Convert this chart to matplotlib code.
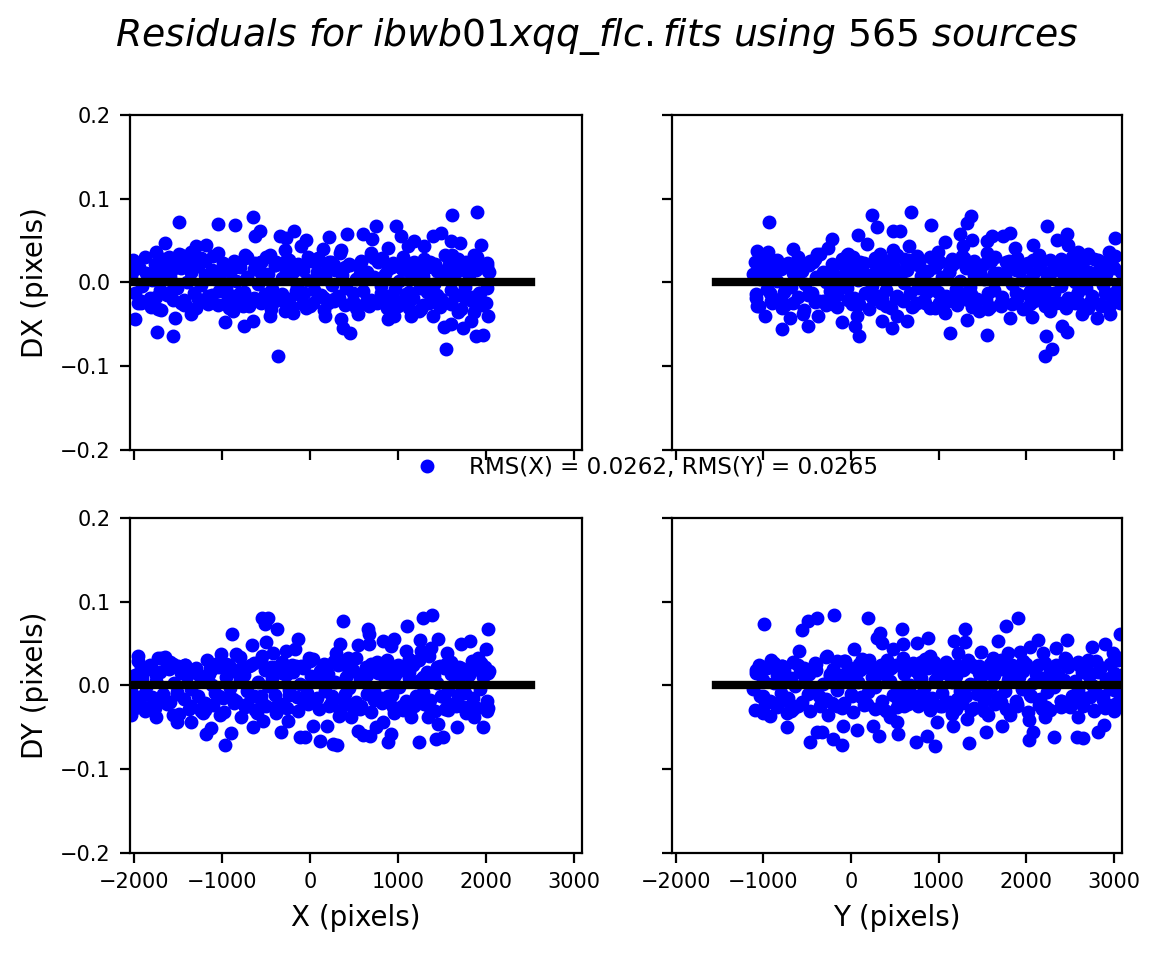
import matplotlib
matplotlib.use("Agg")
from matplotlib import pyplot as plt
from matplotlib.lines import Line2D

image_name = "ibwb01xqq_flc.fits"
n_sources = 565
rms_x = 0.0262
rms_y = 0.0265

# dense core of the residual clouds (approximate)
left_core_x = [
    -2030, -1985, -1940, -1905, -1860, -1820, -1790, -1745, -1700, -1668,
    -1630, -1590, -1548, -1510, -1470, -1436, -1395, -1350, -1318, -1275,
    -1236, -1190, -1152, -1110, -1075, -1030, -992, -950, -912, -870,
    -835, -790, -752, -715, -670, -636, -590, -552, -510, -474,
    -430, -392, -350, -312, -270, -232, -190, -150, -112, -70,
    -32, 10, 48, 90, 128, 170, 208, 250, 290, 330,
    368, 410, 450, 490, 528, 570, 608, 650, 690, 730,
    770, 810, 850, 888, 930, 970, 1010, 1050, 1090, 1130,
    1170, 1210, 1250, 1290, 1330, 1370, 1410, 1450, 1490, 1530,
    1570, 1610, 1650, 1690, 1730, 1770, 1810, 1850, 1890, 1930,
    1970, 2010, 2040,
]
tl_core_dx = [
    0.008, -0.012, 0.018, -0.004, 0.011, -0.019, 0.003, 0.022, -0.009, 0.014,
    -0.015, 0.006, 0.025, -0.007, 0.017, -0.021, 0.001, 0.012, -0.013, 0.020,
    -0.003, 0.009, -0.018, 0.015, 0.004, -0.010, 0.023, -0.006, 0.013, -0.016,
    0.002, 0.019, -0.011, 0.007, -0.022, 0.016, -0.002, 0.024, -0.014, 0.010,
    -0.008, 0.021, -0.017, 0.005, 0.014, -0.020, 0.012, -0.005, 0.018, -0.012,
    0.003, 0.026, -0.009, 0.011, -0.015, 0.007, 0.020, -0.003, 0.015, -0.019,
    0.009, -0.007, 0.022, -0.013, 0.004, 0.017, -0.010, 0.013, -0.021, 0.006,
    0.024, -0.004, 0.010, -0.016, 0.019, -0.008, 0.002, 0.016, -0.014, 0.012,
    -0.018, 0.021, -0.006, 0.008, -0.011, 0.025, -0.002, 0.014, -0.020, 0.005,
    0.018, -0.009, 0.011, -0.015, 0.023, -0.005, 0.009, -0.017, 0.015, -0.012,
    0.020, -0.007, 0.012,
]
bl_core_dy = [
    -0.006, 0.013, -0.018, 0.009, -0.002, 0.020, -0.014, 0.005, 0.016, -0.010,
    0.024, -0.020, 0.003, -0.008, 0.015, -0.016, 0.011, -0.004, 0.019, -0.012,
    0.007, -0.021, 0.014, 0.001, -0.009, 0.022, -0.015, 0.010, -0.003, 0.017,
    -0.019, 0.006, 0.012, -0.007, 0.025, -0.013, 0.004, -0.017, 0.018, -0.001,
    0.009, -0.011, 0.021, -0.022, 0.013, -0.005, 0.016, -0.014, 0.002, 0.023,
    -0.009, 0.011, -0.018, 0.007, 0.019, -0.006, 0.014, -0.012, 0.004, 0.026,
    -0.016, 0.010, -0.003, 0.017, -0.020, 0.008, 0.013, -0.010, 0.022, -0.007,
    0.015, -0.015, 0.005, 0.020, -0.011, 0.012, -0.002, 0.018, -0.019, 0.009,
    0.024, -0.013, 0.006, -0.008, 0.016, -0.017, 0.011, 0.003, -0.012, 0.021,
    -0.005, 0.014, -0.021, 0.008, 0.019, -0.009, 0.013, -0.015, 0.025, -0.004,
    0.010, -0.018, 0.017,
]
left_core_x2 = [
    -2010, -1950, -1880, -1810, -1760, -1690, -1620, -1560, -1490, -1420,
    -1370, -1300, -1240, -1170, -1100, -1050, -980, -920, -860, -800,
    -740, -690, -620, -560, -500, -440, -380, -320, -260, -200,
    -140, -80, -20, 40, 100, 160, 220, 280, 340, 400,
    460, 520, 580, 640, 700, 760, 820, 880, 940, 1000,
    1060, 1120, 1180, 1240, 1300, 1360, 1420, 1480, 1540, 1600,
    1660, 1720, 1780, 1840, 1900, 1960, 2020, 1995, 1575, 1125,
]
tl_core2_dx = [
    0.027, -0.024, 0.031, -0.029, 0.022, -0.033, 0.028, -0.021, 0.034, -0.026,
    0.024, -0.030, 0.029, -0.023, 0.032, -0.027, 0.021, -0.031, 0.026, -0.022,
    0.033, -0.028, 0.023, -0.025, 0.030, -0.032, 0.025, -0.021, 0.028, -0.029,
    0.022, -0.026, 0.031, -0.024, 0.027, -0.033, 0.024, -0.022, 0.035, -0.027,
    0.021, -0.030, 0.026, -0.023, 0.032, -0.025, 0.029, -0.031, 0.023, -0.028,
    0.030, -0.021, 0.025, -0.034, 0.028, -0.024, 0.022, -0.029, 0.033, -0.026,
    0.027, -0.032, 0.024, -0.022, 0.031, -0.027, 0.020, -0.025, 0.029, -0.030,
]
bl_core2_dy = [
    -0.025, 0.029, -0.031, 0.022, -0.027, 0.033, -0.022, 0.026, -0.034, 0.024,
    -0.028, 0.021, -0.030, 0.031, -0.023, 0.027, -0.032, 0.025, -0.021, 0.034,
    -0.026, 0.023, -0.029, 0.030, -0.024, 0.022, -0.033, 0.028, -0.027, 0.025,
    -0.031, 0.021, -0.022, 0.032, -0.028, 0.026, -0.025, 0.029, -0.030, 0.024,
    -0.023, 0.033, -0.027, 0.022, -0.032, 0.028, -0.021, 0.031, -0.026, 0.025,
    -0.029, 0.027, -0.024, 0.030, -0.022, 0.035, -0.031, 0.023, -0.028, 0.026,
    -0.025, 0.021, -0.033, 0.029, -0.027, 0.024, -0.030, 0.022, -0.026, 0.032,
]
left_core_x3 = [
    -1995, -1915, -1835, -1755, -1675, -1595, -1515, -1435, -1355, -1275,
    -1195, -1115, -1035, -955, -875, -795, -715, -635, -555, -475,
    -395, -315, -235, -155, -75, 5, 85, 165, 245, 325,
    405, 485, 565, 645, 725, 805, 885, 965, 1045, 1125,
    1205, 1285, 1365, 1445, 1525, 1605, 1685, 1765, 1845, 1925,
]
tl_core3_dx = [
    0.016, -0.024, 0.010, -0.017, 0.028, -0.011, 0.019, -0.027, 0.013, -0.020,
    0.026, -0.015, 0.009, -0.025, 0.017, -0.012, 0.030, -0.018, 0.011, -0.023,
    0.021, -0.014, 0.027, -0.010, 0.015, -0.028, 0.012, -0.019, 0.024, -0.016,
    0.018, -0.022, 0.010, -0.026, 0.029, -0.013, 0.016, -0.021, 0.025, -0.011,
    0.014, -0.027, 0.020, -0.015, 0.012, -0.024, 0.028, -0.018, 0.017, -0.012,
]
bl_core3_dy = [
    -0.014, 0.022, -0.027, 0.012, -0.019, 0.028, -0.010, 0.017, -0.024, 0.014,
    -0.029, 0.020, -0.012, 0.026, -0.016, 0.011, -0.022, 0.027, -0.013, 0.019,
    -0.026, 0.015, -0.011, 0.023, -0.018, 0.029, -0.015, 0.012, -0.021, 0.025,
    -0.010, 0.018, -0.028, 0.013, -0.017, 0.024, -0.012, 0.021, -0.025, 0.016,
    -0.020, 0.010, -0.027, 0.022, -0.014, 0.028, -0.011, 0.017, -0.023, 0.019,
]
right_core_y = [
    -1120, -1082, -1040, -1001, -960, -921, -880, -842, -800, -761,
    -720, -683, -640, -601, -560, -522, -480, -441, -400, -362,
    -320, -281, -240, -202, -160, -121, -80, -42, 0, 38,
    80, 119, 160, 198, 240, 279, 320, 358, 400, 441,
    480, 519, 560, 601, 640, 678, 720, 761, 800, 838,
    880, 921, 960, 998, 1040, 1081, 1120, 1158, 1200, 1241,
    1280, 1318, 1360, 1401, 1440, 1478, 1520, 1561, 1600, 1638,
    1680, 1721, 1760, 1798, 1840, 1881, 1920, 1958, 2000, 2041,
    2080, 2118, 2160, 2201, 2240, 2278, 2320, 2361, 2400, 2438,
    2480, 2521, 2560, 2598, 2640, 2681, 2720, 2758, 2800, 2841,
    2880, 2918, 2960, 3001, 3040, 3080,
]
tr_core_dx = [
    0.010, -0.014, 0.004, 0.019, -0.008, 0.013, -0.020, 0.002, 0.016, -0.011,
    0.023, -0.005, 0.008, -0.017, 0.014, -0.002, 0.021, -0.013, 0.006, -0.022,
    0.012, 0.001, -0.010, 0.018, -0.015, 0.007, 0.025, -0.006, 0.011, -0.019,
    0.003, 0.017, -0.012, 0.009, -0.004, 0.022, -0.016, 0.013, -0.009, 0.005,
    0.020, -0.018, 0.010, -0.001, 0.015, -0.013, 0.024, -0.007, 0.008, -0.021,
    0.014, -0.003, 0.019, -0.011, 0.006, -0.016, 0.012, 0.021, -0.008, 0.002,
    -0.014, 0.017, -0.005, 0.009, -0.020, 0.013, 0.004, -0.012, 0.026, -0.009,
    0.011, -0.017, 0.007, 0.018, -0.002, 0.015, -0.015, 0.003, 0.022, -0.010,
    0.010, -0.006, 0.016, -0.019, 0.005, 0.013, -0.013, 0.020, -0.004, 0.008,
    -0.018, 0.014, 0.001, -0.011, 0.023, -0.007, 0.012, -0.016, 0.006, 0.019,
    -0.003, 0.010, -0.014, 0.017, -0.009, 0.013,
]
br_core_dy = [
    -0.004, 0.015, -0.012, 0.007, 0.021, -0.018, 0.003, 0.012, -0.009, 0.018,
    -0.015, 0.009, -0.001, 0.024, -0.020, 0.006, 0.014, -0.007, 0.019, -0.013,
    0.002, -0.016, 0.011, 0.020, -0.005, 0.013, -0.021, 0.008, -0.010, 0.017,
    0.004, -0.014, 0.022, -0.008, 0.010, -0.002, 0.016, -0.019, 0.012, 0.005,
    -0.011, 0.025, -0.006, 0.014, -0.017, 0.001, 0.018, -0.012, 0.009, -0.003,
    0.021, -0.015, 0.007, 0.013, -0.009, 0.016, -0.020, 0.004, 0.011, -0.006,
    0.019, -0.013, 0.002, 0.023, -0.010, 0.008, -0.017, 0.015, -0.001, 0.012,
    -0.014, 0.020, -0.007, 0.006, 0.017, -0.018, 0.010, -0.004, 0.022, -0.011,
    0.003, 0.014, -0.016, 0.009, -0.008, 0.018, -0.002, 0.013, -0.019, 0.007,
    0.024, -0.012, 0.005, -0.005, 0.016, -0.015, 0.011, 0.001, -0.009, 0.020,
    -0.013, 0.008, -0.003, 0.015, -0.007, 0.012,
]
right_core_y2 = [
    -1100, -1050, -980, -910, -850, -790, -730, -660, -600, -540,
    -470, -410, -350, -290, -220, -160, -100, -40, 20, 90,
    150, 210, 270, 340, 400, 460, 520, 590, 650, 710,
    770, 840, 900, 960, 1020, 1090, 1150, 1210, 1270, 1340,
    1400, 1460, 1520, 1590, 1650, 1710, 1770, 1840, 1900, 1960,
    2020, 2090, 2150, 2210, 2270, 2340, 2400, 2460, 2520, 2590,
    2650, 2710, 2770, 2840, 2900, 2960, 3020, 3070, 2180, 1380,
]
tr_core2_dx = [
    0.024, -0.028, 0.032, -0.022, 0.027, -0.031, 0.021, -0.025, 0.030, -0.033,
    0.026, -0.023, 0.034, -0.027, 0.022, -0.029, 0.028, -0.021, 0.031, -0.026,
    0.023, -0.032, 0.029, -0.024, 0.025, -0.030, 0.033, -0.022, 0.027, -0.028,
    0.021, -0.025, 0.030, -0.031, 0.024, -0.023, 0.028, -0.027, 0.032, -0.021,
    0.026, -0.034, 0.022, -0.029, 0.031, -0.024, 0.025, -0.026, 0.029, -0.032,
    0.023, -0.022, 0.033, -0.028, 0.027, -0.025, 0.021, -0.030, 0.030, -0.023,
    0.025, -0.031, 0.028, -0.026, 0.022, -0.027, 0.032, -0.024, 0.026, -0.029,
]
br_core2_dy = [
    -0.029, 0.025, -0.022, 0.031, -0.026, 0.023, -0.033, 0.028, -0.024, 0.021,
    -0.030, 0.027, -0.025, 0.034, -0.021, 0.029, -0.027, 0.022, -0.032, 0.026,
    -0.023, 0.030, -0.028, 0.024, -0.031, 0.021, -0.026, 0.033, -0.022, 0.027,
    -0.025, 0.032, -0.029, 0.022, -0.024, 0.028, -0.034, 0.025, -0.021, 0.030,
    -0.027, 0.023, -0.030, 0.026, -0.022, 0.031, -0.028, 0.024, -0.025, 0.029,
    -0.032, 0.021, -0.023, 0.027, -0.029, 0.025, -0.026, 0.032, -0.021, 0.028,
    -0.024, 0.030, -0.031, 0.022, -0.027, 0.026, -0.022, 0.033, -0.028, 0.024,
]
right_core_y3 = [
    -1090, -1005, -920, -835, -750, -665, -580, -495, -410, -325,
    -240, -155, -70, 15, 100, 185, 270, 355, 440, 525,
    610, 695, 780, 865, 950, 1035, 1120, 1205, 1290, 1375,
    1460, 1545, 1630, 1715, 1800, 1885, 1970, 2055, 2140, 2225,
    2310, 2395, 2480, 2565, 2650, 2735, 2820, 2905, 2990, 3075,
]
tr_core3_dx = [
    -0.018, 0.025, -0.012, 0.016, -0.027, 0.011, 0.021, -0.015, 0.028, -0.022,
    0.013, -0.010, 0.019, -0.026, 0.024, -0.013, 0.010, -0.020, 0.027, -0.016,
    0.015, -0.029, 0.022, -0.011, 0.018, -0.024, 0.012, -0.017, 0.029, -0.014,
    0.020, -0.021, 0.011, -0.028, 0.023, -0.012, 0.017, -0.019, 0.026, -0.010,
    0.014, -0.025, 0.021, -0.016, 0.012, -0.023, 0.027, -0.013, 0.019, -0.018,
]
br_core3_dy = [
    0.019, -0.013, 0.026, -0.021, 0.011, -0.028, 0.016, -0.010, 0.023, -0.017,
    0.014, -0.025, 0.029, -0.012, 0.018, -0.022, 0.010, -0.027, 0.021, -0.015,
    0.025, -0.011, 0.013, -0.019, 0.028, -0.024, 0.012, -0.016, 0.020, -0.029,
    0.015, -0.010, 0.027, -0.020, 0.011, -0.023, 0.017, -0.013, 0.024, -0.026,
    0.010, -0.018, 0.022, -0.012, 0.026, -0.014, 0.016, -0.021, 0.013, -0.011,
]

# scattered points outside the core, (position, residual)
tl_extra = [
    (-1489, 0.072), (-1045, 0.070), (-849, 0.069), (-644, 0.078), (-572, 0.062),
    (-629, 0.056), (-345, 0.055), (-269, 0.053), (-182, 0.061), (-42, 0.051),
    (-98, 0.043), (-288, 0.039), (144, 0.040), (220, 0.054), (424, 0.058),
    (602, 0.058), (708, 0.052), (754, 0.067), (981, 0.067), (1038, 0.055),
    (1182, 0.049), (1114, 0.043), (1398, 0.055), (1492, 0.059), (1606, 0.049),
    (1614, 0.081), (1902, 0.084), (1712, 0.047), (1947, 0.045), (1871, 0.033),
    (2015, 0.023), (2023, 0.014), (1621, 0.033), (1303, 0.043), (886, 0.041),
    (697, 0.035), (356, 0.039), (92, 0.029), (-458, 0.033), (-742, 0.029),
    (-1045, 0.035), (-1178, 0.045), (-1292, 0.043), (-1348, 0.037), (-1462, 0.033),
    (-1602, 0.031), (-1644, 0.047), (-1754, 0.036), (-1583, 0.014), (-1992, 0.016),
    (-1708, 0.014), (-553, 0.025), (280, 0.021), (583, 0.025), (1076, 0.021),
    (1341, 0.019), (1720, 0.015), (-261, 0.021), (-955, 0.019), (-1348, 0.021),
    (-1992, -0.043), (-1735, -0.059), (-1553, -0.064), (-1917, -0.022), (-1727, -0.032),
    (-1538, -0.042), (-1348, -0.038), (-1159, -0.026), (-962, -0.047), (-875, -0.034),
    (-761, -0.028), (-750, -0.052), (-652, -0.046), (-458, -0.040), (-360, -0.088),
    (-288, -0.034), (-193, -0.036), (-42, -0.030), (167, -0.040), (356, -0.044),
    (375, -0.054), (451, -0.060), (545, -0.038), (678, -0.028), (886, -0.044),
    (962, -0.040), (1151, -0.040), (1265, -0.032), (1398, -0.040), (1530, -0.053),
    (1606, -0.050), (1549, -0.080), (1739, -0.054), (1833, -0.046), (1890, -0.064),
    (1966, -0.063), (2023, -0.040), (2004, -0.024), (1871, -0.035), (1682, -0.035),
    (818, -0.020), (212, -0.025), (-401, -0.022), (-932, -0.020), (-1159, -0.016),
    (-1462, -0.025), (-98, -0.016), (280, -0.020), (1151, -0.020), (1909, -0.020),
    (-742, -0.016),
]
tr_extra = [
    (-937, 0.072), (-1078, 0.038), (-954, 0.037), (-937, 0.020), (-667, 0.040),
    (-392, 0.034), (-259, 0.041), (-221, 0.052), (-30, 0.034), (84, 0.057),
    (179, 0.046), (244, 0.081), (293, 0.066), (476, 0.061), (560, 0.061),
    (667, 0.043), (686, 0.084), (750, 0.032), (914, 0.069), (1074, 0.048),
    (1246, 0.058), (1322, 0.071), (1368, 0.079), (1379, 0.051), (1284, 0.044),
    (1550, 0.049), (1608, 0.055), (1741, 0.055), (1817, 0.059), (1874, 0.041),
    (2084, 0.045), (2236, 0.067), (2351, 0.051), (2465, 0.058), (2484, 0.045),
    (2598, 0.037), (2503, 0.022), (2712, 0.034), (2941, 0.037), (3010, 0.053),
    (2960, 0.029), (2084, 0.027), (1550, 0.035), (990, 0.037), (484, 0.039),
    (330, 0.034), (-49, 0.033), (-705, 0.021), (-430, 0.025), (-600, 0.026),
    (0, 0.022), (600, 0.028), (1200, 0.024), (1800, 0.026), (2400, 0.028),
    (2900, 0.024),
    (-1078, -0.028), (-983, -0.040), (-792, -0.055), (-697, -0.042), (-487, -0.052),
    (-545, -0.038), (-375, -0.040), (-106, -0.047), (46, -0.052), (95, -0.064),
    (65, -0.040), (350, -0.046), (465, -0.054), (522, -0.040), (636, -0.046),
    (903, -0.030), (1131, -0.060), (1074, -0.036), (1322, -0.045), (1550, -0.063),
    (1570, -0.032), (1817, -0.042), (2046, -0.026), (2065, -0.041), (2274, -0.034),
    (2225, -0.064), (2210, -0.088), (2301, -0.080), (2408, -0.052), (2465, -0.059),
    (2636, -0.038), (2808, -0.042), (2953, -0.038), (2998, -0.020), (2712, -0.026),
    (2560, -0.024), (1893, -0.020), (1322, -0.016), (750, -0.024), (255, -0.020),
    (-202, -0.026), (-801, -0.020), (2122, -0.008), (-900, -0.024), (-300, -0.022),
    (400, -0.028), (1000, -0.024), (1700, -0.026), (2300, -0.022), (2850, -0.028),
]
bl_extra = [
    (-1955, 0.035), (-1822, 0.025), (-1727, 0.033), (-1644, 0.034), (-1500, 0.023),
    (-1424, 0.025), (-1310, 0.019), (-1140, 0.021), (-1015, 0.038), (-1007, 0.027),
    (-883, 0.062), (-837, 0.038), (-659, 0.048), (-545, 0.081), (-477, 0.081),
    (-515, 0.073), (-371, 0.068), (-500, 0.052), (-545, 0.035), (-417, 0.039),
    (-269, 0.041), (-136, 0.055), (-174, 0.043), (-6, 0.033), (-98, 0.023),
    (110, 0.017), (299, 0.039), (345, 0.050), (375, 0.077), (432, 0.033),
    (545, 0.048), (659, 0.067), (667, 0.062), (667, 0.050), (830, 0.053),
    (925, 0.047), (962, 0.055), (1106, 0.071), (1095, 0.041), (1250, 0.054),
    (1261, 0.041), (1284, 0.081), (1386, 0.084), (1455, 0.056), (1379, 0.045),
    (1720, 0.050), (1818, 0.053), (1909, 0.033), (2004, 0.043), (2023, 0.067),
    (2023, 0.015), (1561, 0.039), (1561, 0.027), (886, 0.023), (-780, 0.021),
    (-1600, 0.020), (-400, 0.022), (200, 0.024), (700, 0.026), (1200, 0.028),
    (1700, 0.022), (1950, 0.027),
    (-1992, -0.027), (-2030, -0.035), (-1913, -0.013), (-1784, -0.025), (-1746, -0.038),
    (-1557, -0.035), (-1511, -0.043), (-1348, -0.043), (-1216, -0.033), (-1178, -0.058),
    (-1121, -0.051), (-1027, -0.035), (-962, -0.071), (-894, -0.057), (-780, -0.038),
    (-648, -0.049), (-534, -0.042), (-598, -0.033), (-326, -0.056), (-250, -0.042),
    (-117, -0.062), (-60, -0.061), (34, -0.048), (121, -0.066), (197, -0.048),
    (261, -0.070), (307, -0.071), (337, -0.036), (470, -0.038), (545, -0.054),
    (602, -0.059), (689, -0.060), (754, -0.050), (830, -0.044), (894, -0.068),
    (924, -0.058), (962, -0.033), (1151, -0.038), (1246, -0.068), (1341, -0.038),
    (1435, -0.064), (1455, -0.046), (1511, -0.061), (1674, -0.049), (1871, -0.038),
    (1974, -0.049), (2030, -0.027), (1568, -0.029), (1720, -0.025), (583, -0.025),
    (-1200, -0.022), (-300, -0.026), (400, -0.022), (1100, -0.024), (1800, -0.026),
]
br_extra = [
    (-991, 0.073), (-1040, 0.017), (-880, 0.027), (-785, 0.023), (-590, 0.041),
    (-564, 0.066), (-488, 0.077), (-392, 0.080), (-190, 0.084), (-278, 0.035),
    (34, 0.044), (130, 0.032), (198, 0.080), (293, 0.057), (331, 0.063),
    (350, 0.051), (483, 0.043), (579, 0.068), (598, 0.049), (750, 0.051),
    (874, 0.057), (903, 0.035), (1177, 0.053), (1303, 0.067), (1303, 0.052),
    (1227, 0.039), (1482, 0.040), (1683, 0.053), (1771, 0.071), (1912, 0.080),
    (1798, 0.039), (1931, 0.040), (2046, 0.046), (2141, 0.054), (2198, 0.039),
    (2341, 0.045), (2465, 0.054), (2446, 0.033), (2751, 0.046), (2801, 0.029),
    (2903, 0.050), (2998, 0.039), (3074, 0.062), (2693, 0.019), (1626, 0.033),
    (407, 0.031), (-80, 0.029), (-1000, 0.022), (-400, 0.026), (200, 0.024),
    (800, 0.028), (1400, 0.022), (2000, 0.026), (2600, 0.024), (3050, 0.030),
    (-1011, -0.033), (-924, -0.037), (-728, -0.050), (-690, -0.031), (-469, -0.068),
    (-392, -0.056), (-327, -0.055), (-259, -0.035), (-210, -0.064), (-99, -0.071),
    (-95, -0.048), (65, -0.053), (255, -0.048), (323, -0.060), (446, -0.038),
    (541, -0.058), (522, -0.043), (747, -0.068), (869, -0.060), (964, -0.072),
    (979, -0.044), (1170, -0.048), (1322, -0.040), (1352, -0.069), (1539, -0.055),
    (1570, -0.035), (1722, -0.048), (1817, -0.035), (2038, -0.041), (2038, -0.065),
    (2084, -0.056), (2324, -0.062), (2217, -0.038), (2598, -0.038), (2579, -0.061),
    (2655, -0.063), (2820, -0.056), (2892, -0.047), (2770, -0.029), (3000, -0.005),
    (2880, -0.017), (-700, -0.022), (-100, -0.026), (600, -0.024), (1200, -0.028),
    (1900, -0.022), (2500, -0.026), (3000, -0.030),
]

# extent of the zero reference line in each column
x_line = [-2550, 2510]
y_line = [-1545, 3600]


def panel_data(cores, extra):
    pos, res = [], []
    for core_pos, core_res in cores:
        n = min(len(core_pos), len(core_res))
        pos += list(core_pos[:n])
        res += list(core_res[:n])
    pos += [p for p, _ in extra]
    res += [r for _, r in extra]
    return pos, res


def draw_panel(ax, pos, res, line):
    ax.plot(pos, res, "b.", markersize=8)
    ax.plot(line, [0, 0], "k-", linewidth=3)
    ax.set_xlim(-2045, 3095)
    ax.set_ylim(-0.2, 0.2)
    ax.set_yticks([-0.2, -0.1, 0.0, 0.1, 0.2])
    ax.tick_params(labelsize=7.5)


fig = plt.figure(figsize=(5.805, 4.775), dpi=200)
ax_tl = fig.add_axes([0.1120, 0.5288, 0.3893, 0.3508])
ax_tr = fig.add_axes([0.5788, 0.5288, 0.3876, 0.3508])
ax_bl = fig.add_axes([0.1120, 0.1068, 0.3893, 0.3508])
ax_br = fig.add_axes([0.5788, 0.1068, 0.3876, 0.3508])

left_tl = [(left_core_x, tl_core_dx), (left_core_x2, tl_core2_dx), (left_core_x3, tl_core3_dx)]
right_tr = [(right_core_y, tr_core_dx), (right_core_y2, tr_core2_dx), (right_core_y3, tr_core3_dx)]
left_bl = [(left_core_x, bl_core_dy), (left_core_x2, bl_core2_dy), (left_core_x3, bl_core3_dy)]
right_br = [(right_core_y, br_core_dy), (right_core_y2, br_core2_dy), (right_core_y3, br_core3_dy)]

draw_panel(ax_tl, *panel_data(left_tl, tl_extra), x_line)
draw_panel(ax_tr, *panel_data(right_tr, tr_extra), y_line)
draw_panel(ax_bl, *panel_data(left_bl, bl_extra), x_line)
draw_panel(ax_br, *panel_data(right_br, br_extra), y_line)

ax_tl.tick_params(labelbottom=False)
ax_tr.tick_params(labelbottom=False, labelleft=False)
ax_br.tick_params(labelleft=False)

ax_tl.set_ylabel("DX (pixels)", fontsize=10)
ax_bl.set_ylabel("DY (pixels)", fontsize=10)
ax_bl.set_xlabel("X (pixels)", fontsize=10)
ax_br.set_xlabel("Y (pixels)", fontsize=10)

handle = Line2D([], [], linestyle="none", marker=".", markersize=8, color="b")
fig.legend(
    [handle],
    [f"RMS(X) = {rms_x}, RMS(Y) = {rms_y}"],
    loc="center",
    bbox_to_anchor=(0.552, 0.51),
    frameon=False,
    fontsize=8.3,
    numpoints=1,
)

title_name = image_name.replace("_", r"\_")
fig.text(
    0.514, 0.962,
    rf"$Residuals\ for\ {title_name}\ using\ {n_sources}\ sources$",
    ha="center", va="center", fontsize=13.6,
)

fig.savefig("out.png", dpi=200)
